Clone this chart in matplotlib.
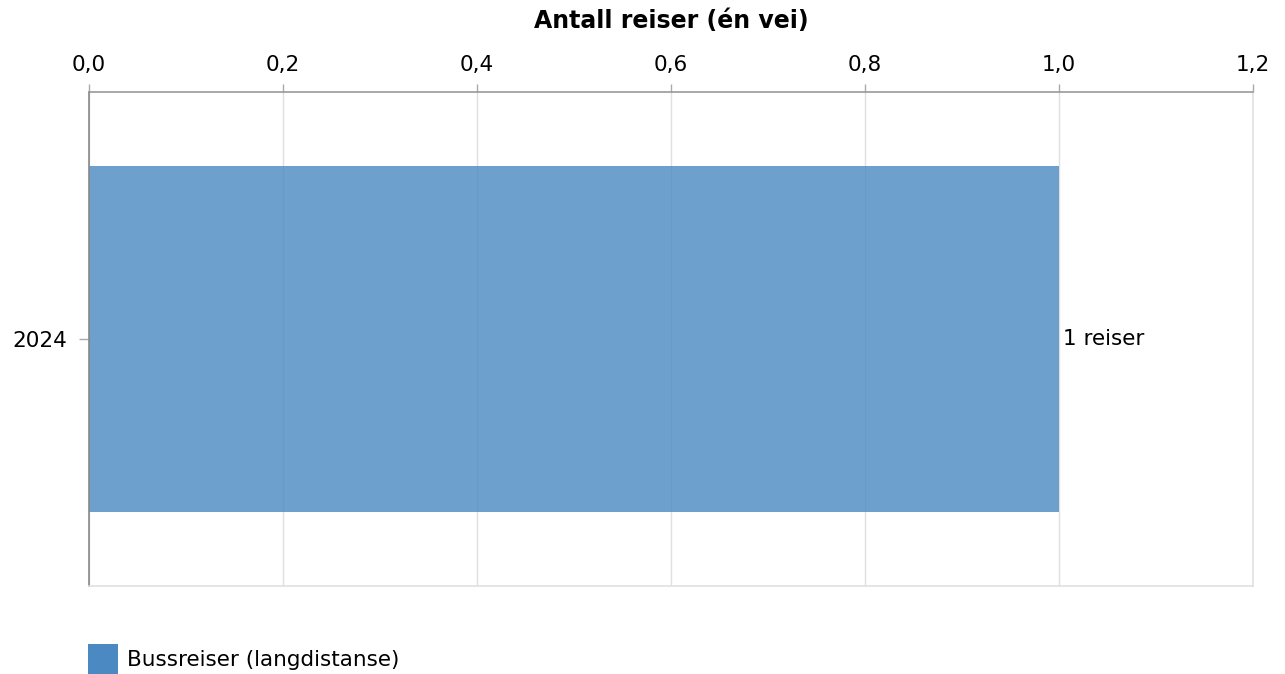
import matplotlib
matplotlib.use('Agg')
import matplotlib.pyplot as plt
from matplotlib.patches import Patch
from matplotlib.ticker import FuncFormatter

# data
categories = ['2024']
values = [1]
series_name = 'Bussreiser (langdistanse)'
xticks = [0.0, 0.2, 0.4, 0.6, 0.8, 1.0, 1.2]

plt.rcParams['font.family'] = ['DejaVu Sans']
fs = 15.5

fig = plt.figure(figsize=(12.85, 6.74), dpi=100)
ax = fig.add_axes([0.0693, 0.1306, 0.9058, 0.7329])

ypos = list(range(len(categories)))
bars = ax.barh(ypos, values, height=0.7, color='#4a89c2', alpha=0.8, zorder=2)

for y, v in zip(ypos, values):
    ax.text(v + 0.004, y, f'{v} reiser', va='center', ha='left', fontsize=fs, color='black', zorder=3)

ax.set_xlim(0, 1.2)
ax.set_ylim(-0.5, 0.5)
ax.set_xticks(xticks)
ax.xaxis.set_major_formatter(FuncFormatter(lambda v, p: f'{v:.1f}'.replace('.', ',')))
ax.set_yticks(ypos)
ax.set_yticklabels(categories)

ax.xaxis.tick_top()
ax.xaxis.set_label_position('top')
ax.set_xlabel('Antall reiser (én vei)', fontsize=17, fontweight='bold', labelpad=20)

ax.tick_params(axis='x', length=6, width=1, color='#aaaaaa', labelsize=fs, pad=6)
ax.tick_params(axis='y', length=7, width=1, color='#aaaaaa', labelsize=fs, pad=9)

ax.grid(axis='x', color='#e0e0e0', linewidth=1, zorder=1)
ax.set_axisbelow(True)

ax.spines['top'].set_color('#999999')
ax.spines['left'].set_color('#888888')
ax.spines['right'].set_color('#e0e0e0')
ax.spines['bottom'].set_color('#e0e0e0')
for s in ax.spines.values():
    s.set_linewidth(1.2)

handle = Patch(facecolor='#4a89c2', edgecolor='none')
fig.legend([handle], [series_name], loc='lower left', bbox_to_anchor=(0.0685, 0.0),
           frameon=False, fontsize=fs, borderpad=0, borderaxespad=0,
           handlelength=1.39, handleheight=1.77, handletextpad=0.42)

fig.savefig('out.png', dpi=100)
